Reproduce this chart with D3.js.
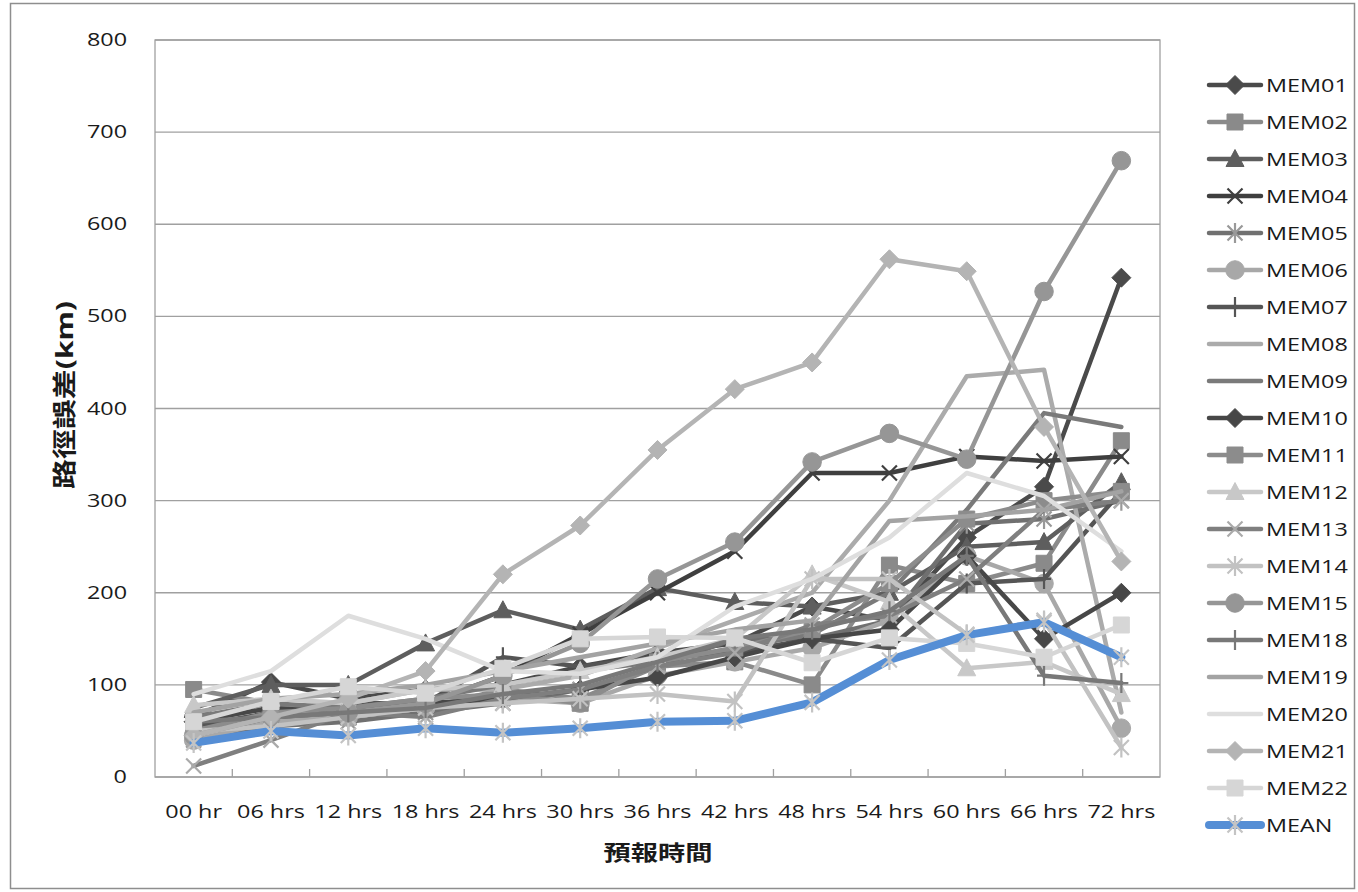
<!DOCTYPE html>
<html>
<head>
<meta charset="utf-8">
<script src="https://cdn.jsdelivr.net/npm/d3@7"></script>
<style>
  body { margin: 0; background: #fff; }
  text { font-family: "Open Sans", "Noto Sans CJK TC", sans-serif; fill: #1a1a1a; }
</style>
</head>
<body>
<div id="chart"></div>
<script>
// ---------------------------------------
// data
const hours = ["00 hr", "06 hrs", "12 hrs", "18 hrs", "24 hrs", "30 hrs", "36 hrs",
  "42 hrs", "48 hrs", "54 hrs", "60 hrs", "66 hrs", "72 hrs"];
const yTicks = [0, 100, 200, 300, 400, 500, 600, 700, 800];

const memberNames = ["MEM01", "MEM02", "MEM03", "MEM04", "MEM05", "MEM06", "MEM07",
  "MEM08", "MEM09", "MEM10", "MEM11", "MEM12", "MEM13", "MEM14", "MEM15", "MEM18",
  "MEM19", "MEM20", "MEM21", "MEM22", "MEAN"];

const mem01 = [65, 103, 85, 95, 100, 120, 135, 145, 185, 170, 260, 315, 542];
const mem02 = [95, 80, 65, 75, 95, 85, 120, 125, 100, 230, 210, 232, 365];
const mem03 = [75, 100, 100, 145, 181, 160, 205, 190, 185, 200, 250, 255, 320];
const mem04 = [50, 60, 70, 80, 110, 155, 200, 245, 330, 330, 348, 343, 348];
const mem05 = [40, 55, 60, 70, 80, 95, 120, 150, 150, 170, 275, 280, 300];
const mem06 = [40, 60, 65, 75, 85, 80, 110, 125, 140, 170, 240, 210, 53];
const mem07 = [55, 70, 80, 80, 130, 120, 130, 135, 150, 140, 210, 215, 310];
const mem08 = [60, 75, 80, 95, 95, 110, 140, 170, 200, 300, 435, 442, 70];
const mem09 = [65, 80, 75, 85, 100, 115, 125, 140, 155, 200, 290, 395, 380];
const mem10 = [60, 75, 70, 80, 85, 95, 108, 130, 150, 160, 240, 150, 200];
const mem11 = [50, 70, 75, 85, 90, 80, 125, 140, 160, 210, 280, 300, 310];
const mem12 = [78, 85, 80, 95, 100, 115, 130, 150, 220, 190, 118, 125, 90];
const mem13 = [12, 40, 70, 65, 85, 95, 120, 135, 165, 175, 215, 290, 300];
const mem14 = [50, 55, 65, 75, 80, 85, 90, 82, 215, 215, 155, 170, 32];
const mem15 = [45, 65, 70, 80, 110, 145, 215, 255, 342, 373, 345, 527, 669];
const mem18 = [60, 65, 70, 75, 90, 100, 125, 150, 160, 180, 240, 110, 102];
const mem19 = [70, 85, 90, 100, 115, 130, 145, 160, 170, 278, 283, 290, 310];
const mem20 = [90, 115, 175, 150, 115, 112, 130, 185, 215, 260, 330, 305, 245];
const mem21 = [45, 65, 85, 115, 220, 273, 355, 421, 450, 562, 549, 380, 234];
const mem22 = [60, 82, 98, 91, 118, 150, 152, 151, 124, 151, 145, 130, 165];
const mean = [37, 50, 45, 53, 48, 53, 60, 61, 81, 127, 154, 168, 130];

const seriesValues = [mem01, mem02, mem03, mem04, mem05, mem06, mem07, mem08, mem09,
  mem10, mem11, mem12, mem13, mem14, mem15, mem18, mem19, mem20, mem21, mem22, mean];

// ---------------------------------------
// styles (line colour, marker type, marker colour)
const lineColors = ["#4a4a4a", "#8a8a8a", "#5e5e5e", "#3f3f3f", "#707070", "#a8a8a8",
  "#555555", "#ababab", "#7a7a7a", "#474747", "#8c8c8c", "#c8c8c8", "#7f7f7f", "#c2c2c2",
  "#969696", "#787878", "#a3a3a3", "#dedede", "#b4b4b4", "#d6d6d6", "#558ed5"];
const markerTypes = ["diamond", "square", "triangle", "times", "asterisk", "circle", "plus",
  "none", "none", "diamond", "square", "triangle", "times", "asterisk", "circle", "plus",
  "none", "none", "diamond", "square", "asterisk"];
const markerColors = lineColors.map((c, i) => {
  if (i === 4) return "#999999";
  if (i === 12) return "#aaaaaa";
  if (i === 20) return "#c4c4c4";
  return c;
});

// ---------------------------------------
// svg params
const W = 1358, H = 892;
const plot = {left: 155, right: 1160, top: 40, bottom: 777};
const SX = 1.3; // text in the reference is stretched horizontally

const svg = d3.select("#chart").append("svg")
    .attr("width", W)
    .attr("height", H);

// outer chart border
svg.append("rect")
    .attr("x", 10.5).attr("y", 3.5)
    .attr("width", W - 14).attr("height", H - 7)
    .attr("fill", "none")
    .attr("stroke", "#8e8e8e")
    .attr("stroke-width", 1.5);

const x = d3.scaleBand()
    .domain(hours)
    .range([plot.left, plot.right]);
const cx = (h) => x(h) + x.bandwidth() / 2;

const y = d3.scaleLinear()
    .domain([0, 800])
    .range([plot.bottom, plot.top]);

// gridlines
svg.append("g")
    .selectAll("line")
    .data(yTicks)
    .enter()
    .append("line")
    .attr("x1", plot.left).attr("x2", plot.right)
    .attr("y1", (d) => y(d)).attr("y2", (d) => y(d))
    .attr("stroke", "#a0a0a0")
    .attr("stroke-width", 1.3);

// plot border
svg.append("rect")
    .attr("x", plot.left).attr("y", plot.top)
    .attr("width", plot.right - plot.left).attr("height", plot.bottom - plot.top)
    .attr("fill", "none")
    .attr("stroke", "#a0a0a0")
    .attr("stroke-width", 1.3);

// x tick marks (inside, at category boundaries)
svg.append("g")
    .selectAll("line")
    .data(hours.slice(1))
    .enter()
    .append("line")
    .attr("x1", (d) => x(d)).attr("x2", (d) => x(d))
    .attr("y1", plot.bottom).attr("y2", plot.bottom - 8)
    .attr("stroke", "#a0a0a0")
    .attr("stroke-width", 1.3);

// y tick labels
svg.append("g")
    .selectAll("text")
    .data(yTicks)
    .enter()
    .append("text")
    .attr("transform", (d) => `translate(127,${y(d) + 6}) scale(${SX},1)`)
    .attr("text-anchor", "end")
    .attr("font-size", 18)
    .text((d) => d);

// x tick labels
svg.append("g")
    .selectAll("text")
    .data(hours)
    .enter()
    .append("text")
    .attr("transform", (d) => `translate(${cx(d)},818) scale(${SX},1)`)
    .attr("text-anchor", "middle")
    .attr("font-size", 18)
    .text((d) => d);

// axis titles
svg.append("text")
    .attr("transform", `translate(658,860) scale(${SX},1)`)
    .attr("text-anchor", "middle")
    .attr("font-size", 21)
    .attr("font-weight", "bold")
    .attr("font-family", "'Noto Sans CJK TC', sans-serif")
    .text("預報時間");

svg.append("text")
    .attr("transform", "translate(73,395) rotate(-90)")
    .attr("text-anchor", "middle")
    .attr("font-size", 24)
    .attr("font-weight", "bold")
    .attr("font-family", "'Noto Sans CJK TC', sans-serif")
    .attr("textLength", 188)
    .attr("lengthAdjust", "spacingAndGlyphs")
    .text("路徑誤差(km)");

// ---------------------------------------
// markers
function markerPath(type) {
  switch (type) {
    case "diamond": return "M0,-9.5L9.5,0L0,9.5L-9.5,0Z";
    case "square": return "M-8,-8H8V8H-8Z";
    case "triangle": return "M0,-9.5L9,7.5L-9,7.5Z";
    case "circle": return d3.symbol(d3.symbolCircle, 270)();
    case "times": return "M-7.5,-7.5L7.5,7.5M7.5,-7.5L-7.5,7.5";
    case "asterisk": return "M-7.5,-7.5L7.5,7.5M7.5,-7.5L-7.5,7.5M0,-10V10";
    case "plus": return "M0,-10V10M-7,0H7";
    default: return null;
  }
}
const strokeOnly = (t) => t === "times" || t === "asterisk" || t === "plus";

function drawMarker(g, type, color) {
  const p = markerPath(type);
  if (!p) return;
  g.append("path")
      .attr("d", p)
      .attr("fill", strokeOnly(type) ? "none" : color)
      .attr("stroke", color)
      .attr("stroke-width", strokeOnly(type) ? 2.2 : 1);
}

// ---------------------------------------
// series
const line = d3.line()
    .x((d, i) => cx(hours[i]))
    .y((d) => y(d));

const seriesG = svg.append("g");
seriesValues.forEach((vals, s) => {
  const g = seriesG.append("g").attr("class", "series");
  g.append("path")
      .attr("d", line(vals))
      .attr("fill", "none")
      .attr("stroke", lineColors[s])
      .attr("stroke-width", s === 20 ? 8 : 4.5)
      .attr("stroke-linejoin", "round")
      .attr("stroke-linecap", "round");
  vals.forEach((v, i) => {
    const m = g.append("g").attr("transform", `translate(${cx(hours[i])},${y(v)})`);
    drawMarker(m, markerTypes[s], markerColors[s]);
  });
});

// ---------------------------------------
// legend
const legend = svg.append("g")
    .selectAll("g")
    .data(memberNames)
    .enter()
    .append("g")
    .attr("transform", (d, i) => `translate(0,${85 + i * 37})`);

legend.append("line")
    .attr("x1", 1209).attr("x2", 1261)
    .attr("y1", 0).attr("y2", 0)
    .attr("stroke", (d, i) => lineColors[i])
    .attr("stroke-width", (d, i) => i === 20 ? 8 : 4.5)
    .attr("stroke-linecap", "round");

legend.each(function(d, i) {
  const m = d3.select(this).append("g").attr("transform", "translate(1235,0)");
  drawMarker(m, markerTypes[i], markerColors[i]);
});

legend.append("text")
    .attr("transform", `translate(1266,7) scale(${SX},1)`)
    .attr("font-size", 18)
    .text((d) => d);
</script>
</body>
</html>
